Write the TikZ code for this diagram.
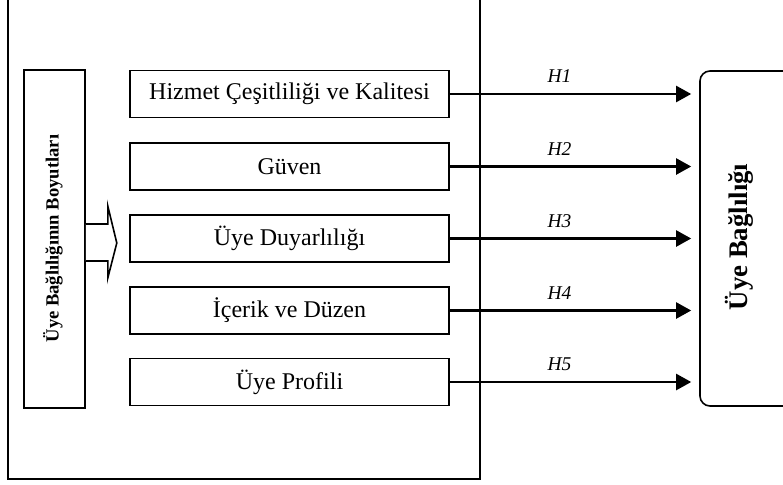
\documentclass[tikz,border=0pt]{standalone}
\usepackage{fontspec}
\setmainfont{Liberation Serif}
\usetikzlibrary{arrows.meta}
\begin{document}
\begin{tikzpicture}[x=1pt,y=-1pt,
  box/.style={draw, line width=1.5pt, minimum width=319pt, minimum height=47pt, inner sep=0pt, font=\fontsize{24}{28}\selectfont},
  arr/.style={line width=2.2pt, -{Triangle[length=15pt,width=16pt]}, shorten >=8pt},
  hlab/.style={font=\fontsize{19.5}{22}\selectfont\itshape, inner sep=0pt, above=10pt, pos=0.44}]
\clip (0,0) rectangle (783,484);
\useasboundingbox (0,0) rectangle (783,484);
% outer frame (top is outside the picture)
\coordinate (otl) at (8,-5);
\coordinate (obl) at (8,479);
\coordinate (obr) at (480,479);
\coordinate (otr) at (480,-5);
\draw[line width=1.6pt] (otl) -- (obl) -- (obr) -- (otr);
% left vertical box
\node[draw, line width=1.6pt, minimum width=61pt, minimum height=338pt, inner sep=0pt] (lb) at (54.5,239) {};
\node[rotate=90, font=\fontsize{18.6}{22}\selectfont\bfseries, inner sep=0pt] (lbt) at (53,238.5) {Üye Bağlılığının Boyutları};
% dimension boxes
\node[box] (b1) at (289.5,94) {Hizmet Çeşitliliği ve Kalitesi};
\node[box] (b2) at (289.5,166.5) {Güven};
\node[box] (b3) at (289.5,238.5) {Üye Duyarlılığı};
\node[box] (b4) at (289.5,310.5) {İçerik ve Düzen};
\node[box] (b5) at (289.5,382) {Üye Profili};
% block arrow
\draw[line width=1.6pt, fill=white]
  ([yshift=15pt]lb.east) -- ++(22,0) -- ++(0,-18) -- ++(9,37) -- ++(-9,35) -- ++(0,-17) -- ++(-22,0);
% right rounded box
\node[draw, line width=1.6pt, rounded corners=10pt, minimum width=120pt, minimum height=335pt, inner sep=0pt] (rb) at (760,238.5) {};
\node[rotate=90, font=\fontsize{26.8}{30}\selectfont\bfseries, inner sep=0pt] (rbt) at (739,237) {Üye Bağlılığı};
% arrows
\draw[arr] (b1.east) -- (b1.east -| rb.west) node[hlab] {H1};
\draw[arr] (b2.east) -- (b2.east -| rb.west) node[hlab] {H2};
\draw[arr] (b3.east) -- (b3.east -| rb.west) node[hlab] {H3};
\draw[arr] (b4.east) -- (b4.east -| rb.west) node[hlab] {H4};
\draw[arr] (b5.east) -- (b5.east -| rb.west) node[hlab] {H5};
\end{tikzpicture}
\end{document}
